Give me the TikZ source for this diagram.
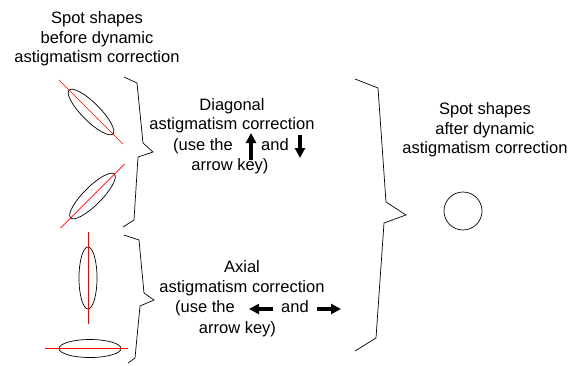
\documentclass[tikz,border=0pt]{standalone}
\usepackage{fontspec}
\setmainfont{Liberation Sans}
\usetikzlibrary{arrows.meta, shapes.geometric, calc}
\def\spotlen{62pt}
\def\spotwid{18pt}
\def\axisext{14pt}

\begin{document}
\begin{tikzpicture}[x=1pt, y=-1pt]

  \tikzset{
    spot/.style = {
      ellipse, draw, line width=0.7pt, inner sep=0pt,
      minimum width=\spotlen, minimum height=\spotwid
    },
    roundspot/.style = {
      circle, draw, line width=0.7pt, inner sep=0pt, minimum size=38pt
    },
    axisline/.style = {
      red, line width=0.7pt
    },
    bracket/.style = {
      draw, line width=0.7pt, line join=miter
    },
    lbl/.style = {
      font=\fontsize{16.5}{19.5}\selectfont, align=center, inner sep=0pt
    },
    keyarrow/.style = {
      -{Triangle[length=10pt, width=10pt]}, line width=4.3pt
    }
  }

  \useasboundingbox (0,0) rectangle (579,365);

  % --- Spots before correction ----------------------------------------------
  \node (beforetxt) [lbl] at (97,39) {Spot shapes\\before dynamic\\astigmatism correction};

  \node (diagA) [spot, rotate=-45] at (91,112) {};
  \node (diagB) [spot, rotate=45]  at (92.5,196) {};
  \node (axA)   [spot, rotate=90]  at (88,278) {};
  \node (axB)   [spot]             at (90,348.5) {};

  \draw [axisline] ($(diagA.west)!-\axisext!(diagA.east)$) -- ($(diagA.east)!-\axisext!(diagA.west)$);
  \draw [axisline] ($(diagB.west)!-\axisext!(diagB.east)$) -- ($(diagB.east)!-\axisext!(diagB.west)$);
  \draw [axisline] ($(axA.west)!-15pt!(axA.east)$) -- ($(axA.east)!-15pt!(axA.west)$);
  \draw [axisline] ($(axB.west)!-\axisext!(axB.east)$) -- ($(axB.east)!-7pt!(axB.west)$);

  % --- Braces ---------------------------------------------------------------
  \draw [bracket] (124,77) -- (137,83) -- (143,143) -- (153,152)
    -- (138,157) -- (134,220) -- (123,227);
  \draw [bracket] (124,235) -- (139,240) -- (144,293) -- (154,300)
    -- (140,306) -- (135,358) -- (128,363);
  \draw [bracket] (355,79) -- (378,88) -- (386,202) -- (406,215)
    -- (384,223) -- (376,338) -- (355,351);

  % --- Diagonal correction --------------------------------------------------
  \node (diaghead) [lbl] at (232,115.5) {Diagonal\\astigmatism correction};
  \node (diaguse)  [lbl, anchor=base east] at (233,150) {(use the};
  \node (diagand)  [lbl, anchor=base] at (275,150) {and};
  \node (diagkey)  [lbl, anchor=base] at (230,170) {arrow key)};

  \coordinate (upfrom)   at (251,160);
  \coordinate (upto)     at (251,133);
  \coordinate (downfrom) at (300,135);
  \coordinate (downto)   at (300,158);
  \draw [keyarrow] (upfrom)   -- (upto);
  \draw [keyarrow] (downfrom) -- (downto);

  % --- Axial correction -----------------------------------------------------
  \node (axhead) [lbl] at (242,278) {Axial\\astigmatism correction};
  \node (axuse)  [lbl, anchor=base east] at (235,312) {(use the};
  \node (axand)  [lbl, anchor=base] at (295,312) {and};
  \node (axkey)  [lbl, anchor=base] at (237.5,333) {arrow key)};

  \coordinate (leftfrom)  at (273,309);
  \coordinate (leftto)    at (249,309);
  \coordinate (rightfrom) at (317,309);
  \coordinate (rightto)   at (341,309);
  \draw [keyarrow] (leftfrom)  -- (leftto);
  \draw [keyarrow] (rightfrom) -- (rightto);

  % --- Spot after correction ------------------------------------------------
  \node (aftertxt) [lbl] at (485,130) {Spot shapes\\after dynamic\\astigmatism correction};
  \node (corrected) [roundspot] at (463,211) {};

\end{tikzpicture}
\end{document}
